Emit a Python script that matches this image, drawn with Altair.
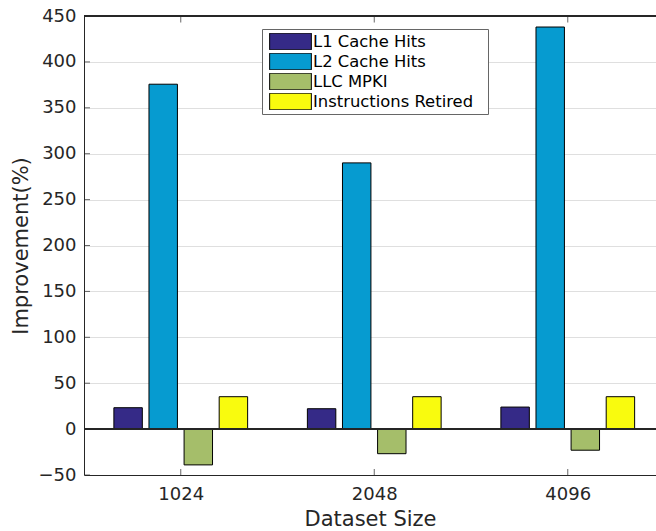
import json
import altair as alt
import pandas as pd

categories = ["1024", "2048", "4096"]
series = ["L1 Cache Hits", "L2 Cache Hits", "LLC MPKI", "Instructions Retired"]
l1_hits = [23.3, 22.2, 24.0]
l2_hits = [375.7, 290.0, 438.0]
llc_mpki = [-39.0, -26.8, -23.0]
instr_retired = [35.3, 35.3, 35.3]
colors = ["#352a87", "#069bd0", "#a5be6a", "#f9fb0e"]
y_ticks = [-50, 0, 50, 100, 150, 200, 250, 300, 350, 400, 450]
group_idx = [1, 2, 3]

rows = []
for si, (name, vals) in enumerate(zip(series, [l1_hits, l2_hits, llc_mpki, instr_retired])):
    for gi, (cat, v) in enumerate(zip(categories, vals)):
        rows.append({"group": gi + 1, "category": cat, "series": name, "sidx": si, "value": v})
df = pd.DataFrame(rows)

W, H = 572, 459
FONT = "DejaVu Sans"
TXT = "#262626"

xscale = alt.Scale(domain=[0.5, 3.456], nice=False, zero=False)
yscale = alt.Scale(domain=[-50, 450], nice=False, zero=False)

label_expr = json.dumps(categories) + "[datum.value - 1]"

bars = alt.Chart(df).transform_calculate(
    x0="datum.group + (datum.sidx - 1.5) * 0.1814 - 0.0735",
    x1="datum.group + (datum.sidx - 1.5) * 0.1814 + 0.0735",
).mark_bar(stroke="black", strokeWidth=1, opacity=1).encode(
    x=alt.X("x0:Q", scale=xscale,
            axis=alt.Axis(values=group_idx, labelExpr=label_expr, title="Dataset Size",
                          grid=False, ticks=False, tickSize=0, labelPadding=10,
                          titlePadding=5, domainColor=TXT, domainWidth=1)),
    x2="x1:Q",
    y=alt.Y("value:Q", scale=yscale,
            axis=alt.Axis(values=y_ticks, title="Improvement(%)", grid=True,
                          gridColor="#dfdfdf", ticks=False, tickSize=0, labelPadding=8,
                          titlePadding=6.5, domainColor=TXT, domainWidth=1)),
    y2=alt.datum(0),
    color=alt.Color("series:N", scale=alt.Scale(domain=series, range=colors),
                    legend=alt.Legend(orient="none", legendX=178, legendY=13, title=None,
                                      symbolType="M-1,-0.4H1V0.4H-1Z", symbolSize=1739,
                                      clipHeight=17, rowPadding=3, padding=4,
                                      symbolOffset=3, labelOffset=1, labelFontSize=16.4,
                                      labelFont=FONT, labelColor="black", labelLimit=400,
                                      labelExpr="datum.label + '\u00a0\u00a0\u200b'",
                                      strokeColor="#666666", fillColor="white",
                                      symbolStrokeColor="black", symbolStrokeWidth=1,
                                      symbolOpacity=1)),
)

zero_rule = alt.Chart(df).mark_rule(color=TXT, strokeWidth=1).encode(
    y=alt.YDatum(0, axis=None)
)

top_rule = alt.Chart(df).mark_rule(color=TXT, strokeWidth=1).encode(y=alt.value(0))

left_ticks = alt.Chart(pd.DataFrame({"t": y_ticks})).mark_tick(
    orient="horizontal", size=12, thickness=1, color=TXT, clip=True
).encode(y=alt.Y("t:Q", scale=yscale, axis=None), x=alt.value(0))

bottom_ticks = alt.Chart(pd.DataFrame({"g": group_idx})).mark_tick(
    orient="vertical", size=12, thickness=1, color=TXT, clip=True
).encode(x=alt.X("g:Q", scale=xscale, axis=None), y=alt.value(H))

top_ticks = alt.Chart(pd.DataFrame({"g": group_idx})).mark_tick(
    orient="vertical", size=13, thickness=1, color=TXT, clip=True
).encode(x=alt.X("g:Q", scale=xscale, axis=None), y=alt.value(0))

chart = alt.layer(bars, zero_rule, top_rule, left_ticks, bottom_ticks, top_ticks).resolve_axis(
    x="independent", y="independent"
).properties(
    width=W, height=H, autosize="none",
    padding={"left": 84, "top": 16, "right": 0, "bottom": 56},
).configure_view(strokeOpacity=0).configure_axis(
    labelFont=FONT, titleFont=FONT, labelFontSize=18, titleFontSize=21,
    labelColor=TXT, titleColor=TXT, titleFontWeight="normal",
)

chart.save("out.html", embed_options={"renderer": "svg", "actions": False})
